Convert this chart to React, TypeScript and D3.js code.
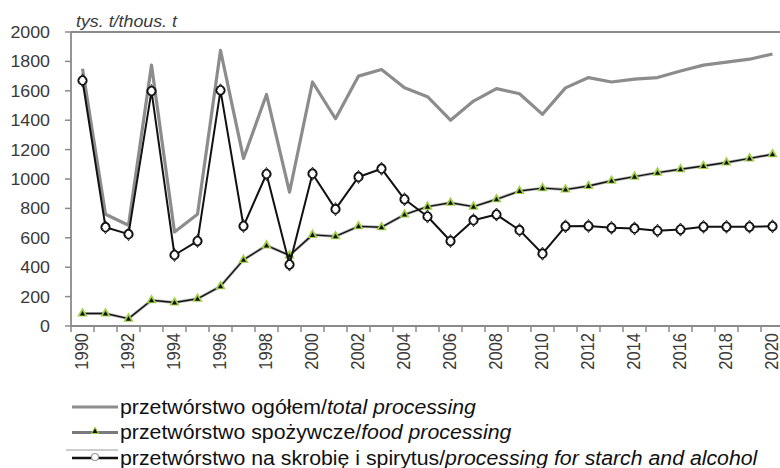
import React from 'react';
import * as d3 from 'd3';

const years = ['1990','1991','1992','1993','1994','1995','1996','1997','1998','1999','2000','2001','2002','2003','2004','2005','2006','2007','2008','2009','2010','2011','2012','2013','2014','2015','2016','2017','2018','2019','2020'];
const totalProcessing = [1750,760,685,1775,640,760,1875,1140,1575,910,1660,1410,1700,1745,1620,1560,1400,1530,1615,1580,1440,1620,1690,1660,1680,1690,1735,1775,1795,1815,1850];
const foodProcessing = [85,85,50,175,160,185,270,450,548,480,620,610,678,672,758,812,838,812,862,918,938,928,952,988,1016,1043,1066,1088,1112,1140,1168];
const starchAlcohol = [1670,672,625,1598,483,578,1603,680,1034,418,1036,795,1014,1070,862,745,578,720,758,652,492,678,680,668,664,648,656,675,675,675,678];
const yTicks = [0,200,400,600,800,1000,1200,1400,1600,1800,2000];
const legendItems = [
  { pl: 'przetwórstwo ogółem/', en: 'total processing' },
  { pl: 'przetwórstwo spożywcze/', en: 'food processing' },
  { pl: 'przetwórstwo na skrobię i spirytus/', en: 'processing for starch and alcohol' },
];

const FONT = '"Liberation Sans", Arial, sans-serif';
const TEXT = '#3a3a3a';
const AXIS = '#8a8a8a';
const STRETCH = 1.08;

const App = () => {
  const W = 780, H = 468;
  const x = d3.scaleBand().domain(years).range([71, 784]).padding(0);
  const y = d3.scaleLinear().domain([0, 2000]).range([326, 32]);
  const cx = (yr: string) => (x(yr) as number) + x.bandwidth() / 2;

  const line = (vals: number[]) =>
    d3.line<number>().x((_, i) => cx(years[i])).y(v => y(v))(vals) as string;

  const tri = d3.symbol().type(d3.symbolTriangle).size(48)() as string;
  const triSmall = d3.symbol().type(d3.symbolTriangle).size(12)() as string;
  const diamond = d3.symbol().type(d3.symbolDiamond).size(50)() as string;

  return (
    <svg width={W} height={H} style={{ position: 'absolute', left: 0, top: 0, background: '#fff' }} fontFamily={FONT}>
      {/* unit label */}
      <text transform={`translate(76,27) scale(${STRETCH},1)`} fontSize={16.5} fontStyle="italic" fill={TEXT}>
        tys. t/thous. t
      </text>

      {/* top line at 2000 */}
      <line x1={71} x2={W} y1={y(2000)} y2={y(2000)} stroke={AXIS} strokeWidth={1.8} />

      {/* y axis */}
      <line x1={71} x2={71} y1={y(2000)} y2={y(0)} stroke={AXIS} strokeWidth={1.8} />
      {yTicks.map(t => (
        <g key={t}>
          <line x1={65} x2={71} y1={y(t)} y2={y(t)} stroke={AXIS} strokeWidth={1.5} />
          <text transform={`translate(50,${y(t)}) scale(${STRETCH},1)`} textAnchor="end" dy="0.36em" fontSize={16.5} fill={TEXT}>{t}</text>
        </g>
      ))}

      {/* x axis */}
      <line x1={71} x2={W} y1={y(0)} y2={y(0)} stroke={AXIS} strokeWidth={1.8} />
      {years.map(yr => (
        <line key={yr} x1={x(yr) as number} x2={x(yr) as number} y1={y(0)} y2={y(0) + 6} stroke={AXIS} strokeWidth={1.5} />
      ))}
      {years.filter((_, i) => i % 2 === 0).map(yr => (
        <text key={yr} transform={`translate(${cx(yr) - 0.5},333) scale(${STRETCH},1) rotate(-90)`} textAnchor="end" dy="0.36em" fontSize={16.5} fill={TEXT}>{yr}</text>
      ))}

      {/* series */}
      <path d={line(totalProcessing)} fill="none" stroke="#8c8c8c" strokeWidth={3.2} strokeLinejoin="round" />
      <path d={line(foodProcessing)} fill="none" stroke="#6e6e6e" strokeWidth={3} strokeLinejoin="round" opacity={0.5} />
      <path d={line(foodProcessing)} fill="none" stroke="#111" strokeWidth={1.4} strokeLinejoin="round" />
      {foodProcessing.map((v, i) => (
        <g key={i} transform={`translate(${cx(years[i])},${y(v)})`}>
          <path d={tri} fill="#a2cf4a" />
          <path d={triSmall} fill="#111" transform="translate(0,0.5)" />
        </g>
      ))}
      <path d={line(starchAlcohol)} fill="none" stroke="#111" strokeWidth={2} strokeLinejoin="round" />
      {starchAlcohol.map((v, i) => (
        <g key={i} transform={`translate(${cx(years[i])},${y(v)})`}>
          <circle r={4.3} fill="#fff" stroke="#111" strokeWidth={1.6} />
          <path d={diamond} fill="none" stroke="#111" strokeWidth={0.9} />
        </g>
      ))}

      {/* legend */}
      {legendItems.map((item, i) => {
        const ly = 407 + i * 25.5;
        return (
          <g key={i}>
            {i === 0 && <line x1={72} x2={118} y1={ly} y2={ly} stroke="#8c8c8c" strokeWidth={3} />}
            {i === 1 && (
              <g>
                <line x1={72} x2={118} y1={ly} y2={ly} stroke="#7a7a7a" strokeWidth={3.2} />
                <g transform={`translate(95,${ly - 1})`}>
                  <path d={tri} fill="#a2cf4a" transform="scale(0.85)" />
                  <path d={triSmall} fill="#111" />
                </g>
              </g>
            )}
            {i === 2 && (
              <g>
                <line x1={66} x2={118} y1={ly - 8} y2={ly - 8} stroke="#9a9a9a" strokeWidth={1.2} />
                <line x1={72} x2={118} y1={ly} y2={ly} stroke="#111" strokeWidth={2.4} />
                <circle cx={95} cy={ly - 1} r={3.5} fill="#fff" stroke="#9a9a9a" strokeWidth={1.2} />
              </g>
            )}
            <text transform={`translate(120,${ly}) scale(${STRETCH},1)`} dy="0.35em" fontSize={19.7} fill="#111">
              {item.pl}<tspan fontStyle="italic">{item.en}</tspan>
            </text>
          </g>
        );
      })}
    </svg>
  );
};

export default App;
